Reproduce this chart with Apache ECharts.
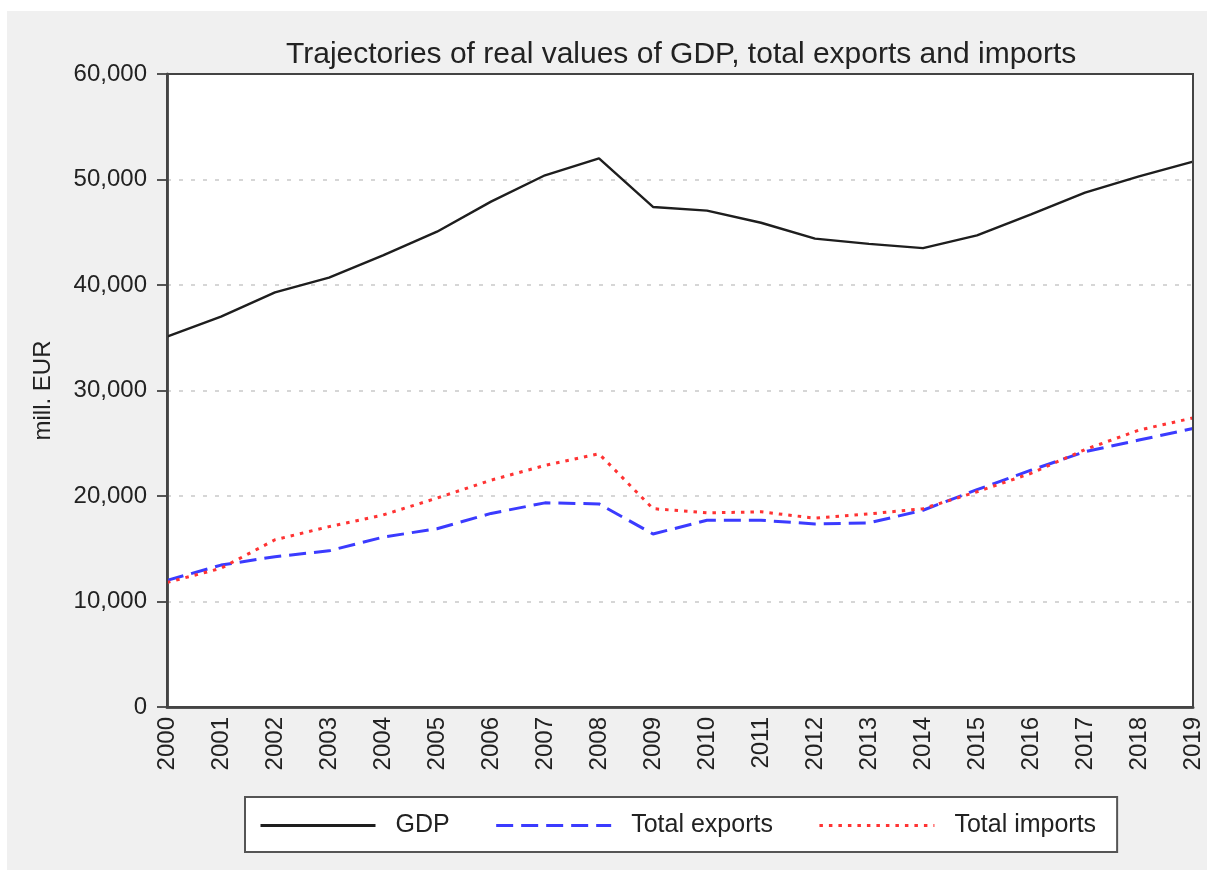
<!DOCTYPE html>
<html>
<head>
<meta charset="utf-8">
<script src="https://cdn.jsdelivr.net/npm/echarts@6/dist/echarts.min.js"></script>
<style>html,body{margin:0;padding:0;background:#fff}#c{width:1207px;height:870px}</style>
</head>
<body>
<div id="c"></div>
<script>
const years = ['2000','2001','2002','2003','2004','2005','2006','2007','2008','2009','2010','2011','2012','2013','2014','2015','2016','2017','2018','2019'];
const gdp = [35100,37000,39300,40700,42800,45050,47900,50400,52000,47400,47050,45900,44400,43900,43500,44700,46700,48750,50300,51700];
const exportsV = [12000,13450,14250,14800,16100,16900,18350,19350,19250,16400,17700,17700,17350,17450,18650,20600,22450,24200,25300,26400];
const importsV = [11800,13150,15850,17100,18200,19800,21500,22900,24000,18800,18400,18500,17900,18300,18800,20400,22150,24400,26250,27400];
const yTicks = [0,10000,20000,30000,40000,50000,60000];

const chart = echarts.init(document.getElementById('c'), null, {renderer:'canvas'});
const font = 'Liberation Sans, Arial, sans-serif';
const G = {left: 167, right: 14, top: 74, bottom: 163};
chart.setOption({
  backgroundColor: '#fff',
  animation: false,
  graphic: [
    {type:'rect', z:-10, silent:true, shape:{x:7,y:11,width:1200,height:859}, style:{fill:'#f0f0f0'}},
    {type:'rect', z:100, silent:true, shape:{x:G.left,y:G.top,width:1207-G.left-G.right,height:870-G.top-G.bottom},
     style:{fill:null, stroke:'#444', lineWidth:2}}
  ],
  title: {
    text: 'Trajectories of real values of GDP, total exports and imports',
    left: 281, top: 35,
    textStyle: {fontFamily: font, fontSize: 30, fontWeight: 'normal', color: '#222'}
  },
  legend: {
    left: 245, top: 797,
    backgroundColor: '#fff', borderColor: '#555', borderWidth: 2,
    padding: [16, 21, 14, 14],
    itemWidth: 115, itemHeight: 14, itemGap: 45,
    itemStyle: {opacity: 0},
    lineStyle: {width: 3},
    textStyle: {fontFamily: font, fontSize: 25, color: '#222', padding: [0,0,0,15]},
    data: ['GDP','Total exports','Total imports']
  },
  grid: {
    left: G.left, right: G.right, top: G.top, bottom: G.bottom,
    show: true, backgroundColor: '#fff', borderWidth: 0
  },
  xAxis: {
    type: 'category', data: years, boundaryGap: false,
    axisLine: {lineStyle: {color: '#555', width: 3}},
    axisTick: {show: false},
    axisLabel: {rotate: 90, fontFamily: font, fontSize: 24, color: '#222', margin: 10, interval: 0}
  },
  yAxis: {
    type: 'value', min: yTicks[0], max: yTicks[yTicks.length-1], interval: 10000,
    name: 'mill. EUR', nameLocation: 'middle', nameRotate: 90, nameGap: 112,
    nameTextStyle: {fontFamily: font, fontSize: 24, color: '#222'},
    axisLine: {show: true, lineStyle: {color: '#555', width: 3}},
    axisTick: {show: true, length: 10, lineStyle: {color: '#555', width: 2}},
    axisLabel: {fontFamily: font, fontSize: 24, color: '#222', margin: 20,
      formatter: v => v.toLocaleString('en-US')},
    splitLine: {show: true, lineStyle: {color: '#d6d6d6', width: 2, type: [4, 8]}}
  },
  series: [
    {name: 'GDP', type: 'line', data: gdp, symbol: 'none', z: 3,
     lineStyle: {color: '#1e1e1e', width: 2.4}, itemStyle: {color: '#1e1e1e'}},
    {name: 'Total exports', type: 'line', data: exportsV, symbol: 'none', z: 2,
     lineStyle: {color: '#3b3bff', width: 3, type: [17, 8]}, itemStyle: {color: '#3b3bff'}},
    {name: 'Total imports', type: 'line', data: importsV, symbol: 'none', z: 4,
     lineStyle: {color: '#ff3333', width: 3, type: [3.5, 6]}, itemStyle: {color: '#ff3333'}}
  ]
});
</script>
</body>
</html>
